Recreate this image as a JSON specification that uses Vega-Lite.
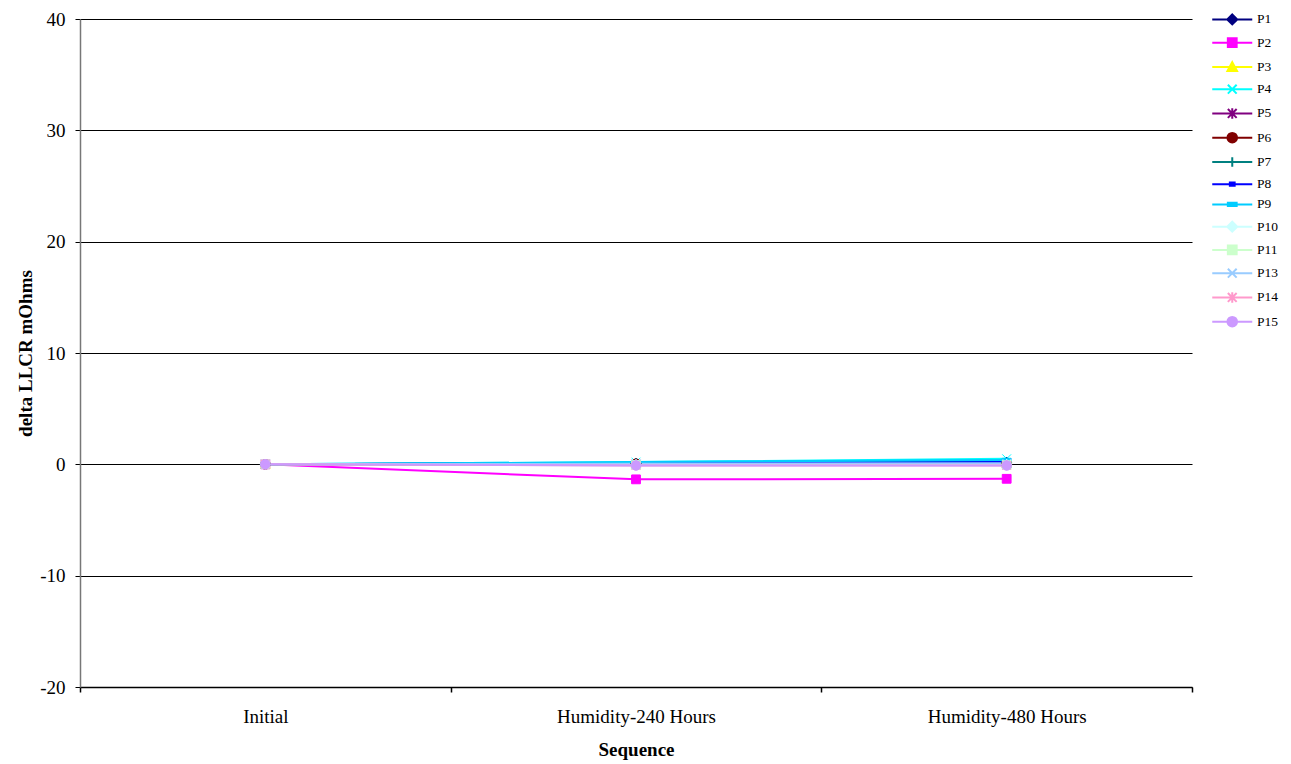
{
  "$schema": "https://vega.github.io/schema/vega-lite/v6.json",
  "width": 1112,
  "height": 668,
  "autosize": {"type": "none"},
  "padding": {"left": 80, "top": 19, "right": 99, "bottom": 77},
  "background": "white",
  "config": {
    "view": {"stroke": null},
    "font": "Liberation Serif",
    "axis": {"labelFont": "Liberation Serif", "titleFont": "Liberation Serif", "labelFontSize": 19, "titleFontSize": 19, "titleFontWeight": "bold", "labelColor": "#000", "titleColor": "#000"},
    "legend": {"orient": "none", "legendX": 1112, "legendY": -6.3, "padding": 0, "symbolSize": 64, "symbolStrokeWidth": 2, "symbolOffset": 33.5, "labelOffset": 18, "labelFont": "Liberation Serif", "labelFontSize": 13.5, "labelColor": "#000", "rowPadding": 5.25, "symbolOpacity": 1}
  },
  "data": {"values": [
    {"series": "P1", "seq": "Initial", "value": 0},
    {"series": "P1", "seq": "Humidity-240 Hours", "value": 0.1},
    {"series": "P1", "seq": "Humidity-480 Hours", "value": 0.2},
    {"series": "P2", "seq": "Initial", "value": 0},
    {"series": "P2", "seq": "Humidity-240 Hours", "value": -1.35},
    {"series": "P2", "seq": "Humidity-480 Hours", "value": -1.3},
    {"series": "P3", "seq": "Initial", "value": 0},
    {"series": "P3", "seq": "Humidity-240 Hours", "value": 0.05},
    {"series": "P3", "seq": "Humidity-480 Hours", "value": 0.1},
    {"series": "P4", "seq": "Initial", "value": 0},
    {"series": "P4", "seq": "Humidity-240 Hours", "value": 0.2},
    {"series": "P4", "seq": "Humidity-480 Hours", "value": 0.5},
    {"series": "P5", "seq": "Initial", "value": 0},
    {"series": "P5", "seq": "Humidity-240 Hours", "value": 0.0},
    {"series": "P5", "seq": "Humidity-480 Hours", "value": 0.1},
    {"series": "P6", "seq": "Initial", "value": 0},
    {"series": "P6", "seq": "Humidity-240 Hours", "value": 0.05},
    {"series": "P6", "seq": "Humidity-480 Hours", "value": 0.05},
    {"series": "P7", "seq": "Initial", "value": 0},
    {"series": "P7", "seq": "Humidity-240 Hours", "value": 0.1},
    {"series": "P7", "seq": "Humidity-480 Hours", "value": 0.15},
    {"series": "P8", "seq": "Initial", "value": 0},
    {"series": "P8", "seq": "Humidity-240 Hours", "value": 0.1},
    {"series": "P8", "seq": "Humidity-480 Hours", "value": 0.2},
    {"series": "P9", "seq": "Initial", "value": 0},
    {"series": "P9", "seq": "Humidity-240 Hours", "value": 0.2},
    {"series": "P9", "seq": "Humidity-480 Hours", "value": 0.4},
    {"series": "P10", "seq": "Initial", "value": 0},
    {"series": "P10", "seq": "Humidity-240 Hours", "value": 0.0},
    {"series": "P10", "seq": "Humidity-480 Hours", "value": 0.0},
    {"series": "P11", "seq": "Initial", "value": 0},
    {"series": "P11", "seq": "Humidity-240 Hours", "value": -0.05},
    {"series": "P11", "seq": "Humidity-480 Hours", "value": -0.05},
    {"series": "P13", "seq": "Initial", "value": 0},
    {"series": "P13", "seq": "Humidity-240 Hours", "value": 0.05},
    {"series": "P13", "seq": "Humidity-480 Hours", "value": 0.1},
    {"series": "P14", "seq": "Initial", "value": 0},
    {"series": "P14", "seq": "Humidity-240 Hours", "value": -0.1},
    {"series": "P14", "seq": "Humidity-480 Hours", "value": -0.1},
    {"series": "P15", "seq": "Initial", "value": 0},
    {"series": "P15", "seq": "Humidity-240 Hours", "value": -0.1},
    {"series": "P15", "seq": "Humidity-480 Hours", "value": -0.1}
  ]},
  "encoding": {
    "x": {"field": "seq", "type": "nominal", "sort": ["Initial", "Humidity-240 Hours", "Humidity-480 Hours"],
      "scale": {"type": "band", "paddingInner": 0, "paddingOuter": 0},
      "axis": {"title": "Sequence", "labelAngle": 0, "tickBand": "extent", "domainColor": "#000", "domainWidth": 1.5, "tickColor": "#000", "tickWidth": 1.5, "tickSize": 5, "labelPadding": 15, "titlePadding": 14, "grid": false}},
    "y": {"field": "value", "type": "quantitative", "scale": {"domain": [-20, 40], "nice": false, "zero": false},
      "axis": {"title": "delta LLCR mOhms", "values": [-20, -10, 0, 10, 20, 30, 40], "labelExpr": "toString(datum.value)", "grid": true, "gridColor": "#000", "gridWidth": 1, "domainColor": "#777", "domainWidth": 1.5, "tickColor": "#000", "tickSize": 5, "labelPadding": 10, "titlePadding": 4}}
  },
  "layer": [
    {
      "mark": {"type": "line", "strokeWidth": 2},
      "encoding": {
        "color": {"field": "series", "type": "nominal", "legend": null,
          "scale": {"domain": ["P1","P2","P3","P4","P5","P6","P7","P8","P9","P10","P11","P13","P14","P15"],
            "range": ["#000080","#FF00FF","#FFFF00","#00FFFF","#800080","#800000","#008080","#0000FF","#00CCFF","#CCFFFF","#CCFFCC","#99CCFF","#FF99CC","#CC99FF"]}}
      }
    },
    {
      "mark": {"type": "point", "filled": true, "size": 64, "strokeWidth": 1, "opacity": 1},
      "encoding": {
        "color": {"field": "series", "type": "nominal", "legend": null,
          "scale": {"domain": ["P1","P2","P3","P4","P5","P6","P7","P8","P9","P10","P11","P13","P14","P15"],
            "range": ["#000080","#FF00FF","#FFFF00","#00FFFF","#800080","#800000","#008080","#0000FF","#00CCFF","#CCFFFF","#CCFFCC","#99CCFF","#FF99CC","#CC99FF"]}},
        "stroke": {"field": "series", "type": "nominal", "legend": null,
          "scale": {"domain": ["P1","P2","P3","P4","P5","P6","P7","P8","P9","P10","P11","P13","P14","P15"],
            "range": ["#000080","#FF00FF","#FFFF00","#00FFFF","#800080","#800000","#008080","#0000FF","#00CCFF","#CCFFFF","#CCFFCC","#99CCFF","#FF99CC","#CC99FF"]}},
        "shape": {"field": "series", "type": "nominal", "legend": null,
          "scale": {"domain": ["P1","P2","P3","P4","P5","P6","P7","P8","P9","P10","P11","P13","P14","P15"],
            "range": [
              "M0,-1.25L1.25,0L0,1.25L-1.25,0Z",
              "M-1.1,-1.1H1.1V1.1H-1.1Z",
              "M0,-1.2L1.2,1L-1.2,1Z",
              "M-1.1,-1.1L1.1,1.1M-1.1,1.1L1.1,-1.1",
              "M-1.1,-1.1L1.1,1.1M-1.1,1.1L1.1,-1.1M0,-1.3V1.3",
              "M1.2,0A1.2,1.2,0,1,1,-1.2,0A1.2,1.2,0,1,1,1.2,0Z",
              "M-1.2,0H1.2M0,-1.2V1.2",
              "M-0.6,-0.4H0.6V0.4H-0.6Z",
              "M-1.1,-0.4H1.1V0.4H-1.1Z",
              "M0,-1.25L1.25,0L0,1.25L-1.25,0Z",
              "M-1.1,-1.1H1.1V1.1H-1.1Z",
              "M-1.1,-1.1L1.1,1.1M-1.1,1.1L1.1,-1.1",
              "M-1.1,-1.1L1.1,1.1M-1.1,1.1L1.1,-1.1M0,-1.3V1.3",
              "M1.2,0A1.2,1.2,0,1,1,-1.2,0A1.2,1.2,0,1,1,1.2,0Z"
            ]}}
      }
    },
    {
      "mark": {"type": "point", "filled": true, "size": 64, "strokeWidth": 2, "opacity": 0},
      "encoding": {
        "color": {"field": "series", "type": "nominal", "legend": {"title": null},
          "scale": {"domain": ["P1","P2","P3","P4","P5","P6","P7","P8","P9","P10","P11","P13","P14","P15"],
            "range": ["#000080","#FF00FF","#FFFF00","#00FFFF","#800080","#800000","#008080","#0000FF","#00CCFF","#CCFFFF","#CCFFCC","#99CCFF","#FF99CC","#CC99FF"]}},
        "stroke": {"field": "series", "type": "nominal", "legend": {"title": null},
          "scale": {"domain": ["P1","P2","P3","P4","P5","P6","P7","P8","P9","P10","P11","P13","P14","P15"],
            "range": ["#000080","#FF00FF","#FFFF00","#00FFFF","#800080","#800000","#008080","#0000FF","#00CCFF","#CCFFFF","#CCFFCC","#99CCFF","#FF99CC","#CC99FF"]}},
        "shape": {"field": "series", "type": "nominal", "legend": {"title": null},
          "scale": {"domain": ["P1","P2","P3","P4","P5","P6","P7","P8","P9","P10","P11","P13","P14","P15"],
            "range": [
              "M-5,0H5M0,-1.25L1.25,0L0,1.25L-1.25,0Z",
              "M-5,0H5M-1.1,-1.1H1.1V1.1H-1.1Z",
              "M-5,0H5M0,-1.2L1.2,1L-1.2,1Z",
              "M-5,0H5M-1.1,-1.1L1.1,1.1M-1.1,1.1L1.1,-1.1",
              "M-5,0H5M-1.1,-1.1L1.1,1.1M-1.1,1.1L1.1,-1.1M0,-1.3V1.3",
              "M-5,0H5M1.2,0A1.2,1.2,0,1,1,-1.2,0A1.2,1.2,0,1,1,1.2,0Z",
              "M-5,0H5M0,-1.2V1.2",
              "M-5,0H5M-0.6,-0.4H0.6V0.4H-0.6Z",
              "M-5,0H5M-1.1,-0.4H1.1V0.4H-1.1Z",
              "M-5,0H5M0,-1.25L1.25,0L0,1.25L-1.25,0Z",
              "M-5,0H5M-1.1,-1.1H1.1V1.1H-1.1Z",
              "M-5,0H5M-1.1,-1.1L1.1,1.1M-1.1,1.1L1.1,-1.1",
              "M-5,0H5M-1.1,-1.1L1.1,1.1M-1.1,1.1L1.1,-1.1M0,-1.3V1.3",
              "M-5,0H5M1.2,0A1.2,1.2,0,1,1,-1.2,0A1.2,1.2,0,1,1,1.2,0Z"
            ]}}
      }
    }
  ],
  "resolve": {"scale": {"color": "independent", "stroke": "independent", "shape": "independent"}}
}
